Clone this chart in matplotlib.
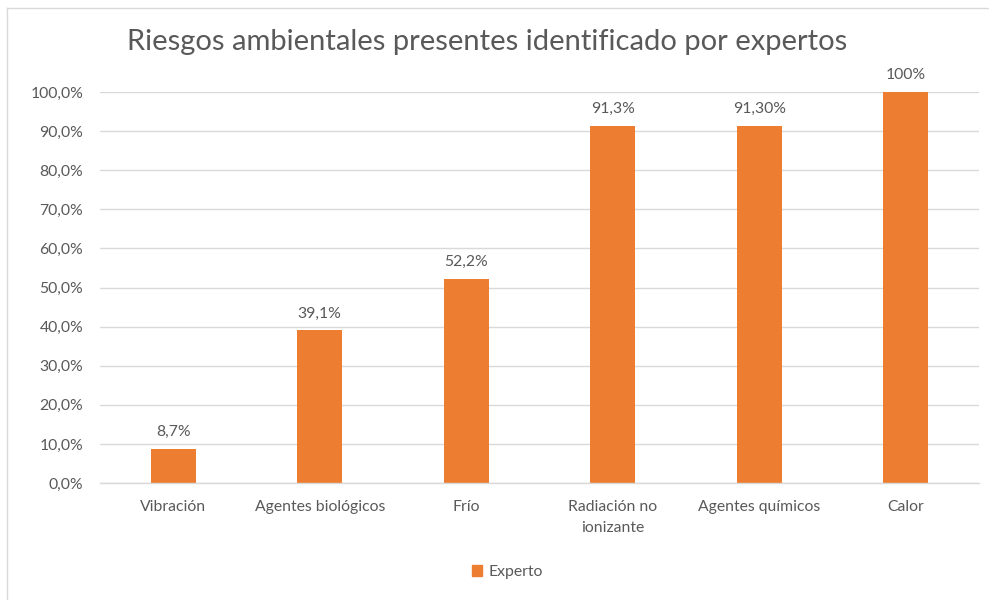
import matplotlib
matplotlib.use("Agg")
import matplotlib.pyplot as plt
from matplotlib.patches import Patch
from matplotlib.ticker import FuncFormatter

# Data
categories = ["Vibración", "Agentes biológicos", "Frío",
              "Radiación no\nionizante", "Agentes químicos", "Calor"]
values = [8.7, 39.1, 52.2, 91.3, 91.30, 100]
label_decimals = [1, 1, 1, 1, 2, 0]
series_name = "Experto"
title = "Riesgos ambientales presentes identificado por expertos"

BAR_COLOR = "#ED7D31"
TEXT_COLOR = "#595959"
GRID_COLOR = "#D9D9D9"
FONT = ["Lato", "DejaVu Sans"]
FS = 11.3

plt.rcParams["font.family"] = FONT

fig = plt.figure(figsize=(9.89, 6.0), dpi=100)
W, H = 989, 600

# chart border (top and left edges visible)
fig.add_artist(plt.Line2D([7 / W, 7 / W], [0, 1 - 8 / H], transform=fig.transFigure,
                          color=GRID_COLOR, linewidth=1.0))
fig.add_artist(plt.Line2D([7 / W, 1], [1 - 8 / H, 1 - 8 / H], transform=fig.transFigure,
                          color=GRID_COLOR, linewidth=1.0))

ax = fig.add_axes([100 / W, 1 - 483 / H, 879 / W, 391 / H])
x = range(len(categories))
bars = ax.bar(x, values, width=0.31, color=BAR_COLOR, zorder=3)

ax.set_xlim(-0.5, len(categories) - 0.5)
ax.set_ylim(0, 100)
ax.set_yticks(range(0, 101, 10))
ax.yaxis.set_major_formatter(FuncFormatter(lambda v, p: f"{v:.1f}%".replace(".", ",")))
ax.set_xticks(list(x))
ax.set_xticklabels(categories, fontsize=FS, color=TEXT_COLOR, linespacing=1.65)
ax.tick_params(axis="y", labelsize=FS, colors=TEXT_COLOR, length=0, pad=12)
ax.tick_params(axis="x", length=0, pad=12)

ax.grid(axis="y", color=GRID_COLOR, linewidth=1.0, zorder=0)
for s in ["top", "right", "left"]:
    ax.spines[s].set_visible(False)
ax.spines["bottom"].set_color(GRID_COLOR)
ax.spines["bottom"].set_linewidth(1.0)
ax.spines["bottom"].set_zorder(4)

for b, v, d in zip(bars, values, label_decimals):
    txt = f"{v:.{d}f}%".replace(".", ",")
    ax.annotate(txt, (b.get_x() + b.get_width() / 2, v), xytext=(0, 7),
                textcoords="offset points", ha="center", va="bottom",
                fontsize=FS, color=TEXT_COLOR, annotation_clip=False)

fig.text(487 / W, 1 - 42 / H, title, ha="center", va="center",
         fontsize=21, color=TEXT_COLOR)

fig.legend(handles=[Patch(color=BAR_COLOR, label=series_name)],
           loc="center", bbox_to_anchor=(507 / W, 1 - 572 / H), frameon=False,
           fontsize=FS, labelcolor=TEXT_COLOR, handlelength=0.65,
           handleheight=0.65, handletextpad=0.4)

fig.savefig("out.png", dpi=100)
